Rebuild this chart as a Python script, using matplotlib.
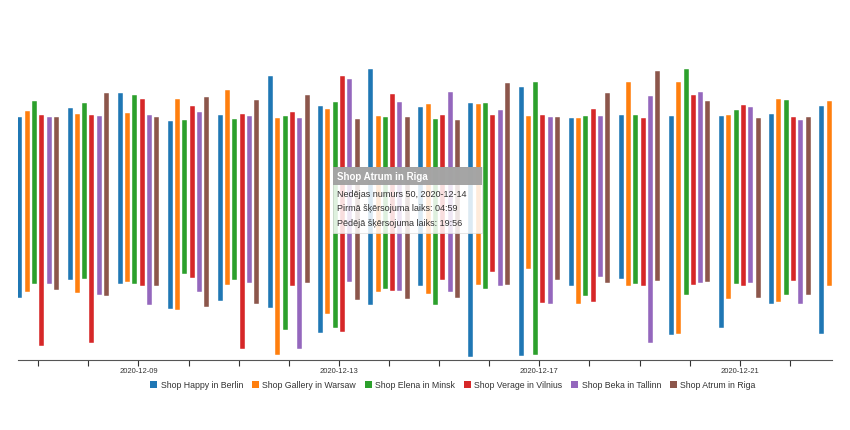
"""
Daily first/last crossing times per shop, drawn as floating bars.
"""

import numpy as np
import pandas as pd
import matplotlib
matplotlib.use("Agg")
import matplotlib.pyplot as plt
import matplotlib.dates as mdates
from matplotlib.patches import Patch, FancyBboxPatch

plt.rcParams["font.family"] = ["Liberation Sans", "DejaVu Sans"]

dates = pd.date_range("2020-12-07", "2020-12-23", freq="D")
label_dates = ["2020-12-09", "2020-12-13", "2020-12-17", "2020-12-21"]

shops = ["Shop Happy in Berlin", "Shop Gallery in Warsaw", "Shop Elena in Minsk",
         "Shop Verage in Vilnius", "Shop Beka in Tallinn", "Shop Atrum in Riga"]
colors = ["#1f77b4", "#ff7f0e", "#2ca02c", "#d62728", "#9467bd", "#8c564b"]

berlin_first = ["05:07", "06:35", "06:16", "04:11", "04:49", "04:16", "02:12", "04:30", "06:05",
                "00:16", "00:20", "06:05", "06:39", "02:03", "02:36", "04:38", "02:08"]
berlin_last = ["20:00", "20:44", "21:58", "19:37", "20:07", "23:22", "20:53", "23:53", "20:46",
               "21:06", "22:26", "19:55", "20:07", "20:03", "20:05", "20:15", "20:54"]
warsaw_first = ["05:37", "05:32", "06:25", "04:07", "06:10", "00:25", "03:47", "05:35", "05:24",
                "06:11", "07:27", "04:35", "06:05", "02:07", "04:59", "04:44", "06:06"]
warsaw_last = ["20:28", "20:15", "20:18", "21:29", "22:13", "19:53", "20:36", "20:02", "21:04",
               "21:04", "20:05", "19:55", "22:52", "22:51", "20:07", "21:26", "21:19"]
minsk_first = ["06:13", "06:41", "06:16", "07:05", "06:33", "02:30", "02:36", "05:52", "04:31",
               "05:49", "00:23", "05:16", "06:13", "05:21", "06:13", "05:22", None]
minsk_last = ["21:19", "21:09", "21:48", "19:45", "19:47", "20:05", "21:11", "19:58", "19:50",
              "21:09", "22:49", "20:03", "20:07", "23:55", "20:31", "21:21", None]
vilnius_first = ["01:11", "01:25", "06:05", "06:46", "00:56", "06:05", "02:19", "05:40", "06:35",
                 "07:13", "04:43", "04:47", "06:05", "06:10", "06:05", "06:28", None]
vilnius_last = ["20:07", "20:07", "21:26", "20:53", "20:12", "20:25", "23:20", "21:50", "20:07",
                "20:07", "20:07", "20:36", "19:55", "21:47", "20:59", "20:00", None]
tallinn_first = ["06:13", "05:21", "04:33", "05:37", "06:21", "00:56", "06:25", "05:40", "05:37",
                 "06:06", "04:36", "06:51", "01:25", "06:18", "06:18", "04:38", None]
tallinn_last = ["20:00", "20:03", "20:08", "20:22", "20:05", "19:52", "23:04", "21:11", "22:03",
                "20:34", "19:58", "20:02", "21:42", "22:03", "20:48", "19:44", None]
riga_first = ["05:45", "05:16", "06:05", "04:21", "04:35", "06:18", "04:54", "04:59", "05:07",
              "06:08", "06:35", "06:18", "06:28", "06:23", "05:06", "05:22", None]
riga_last = ["19:58", "21:55", "19:58", "21:37", "21:24", "21:47", "19:48", "19:56", "19:44",
             "22:47", "19:57", "21:58", "23:45", "21:19", "19:55", "19:57", None]

first_times = [berlin_first, warsaw_first, minsk_first, vilnius_first, tallinn_first, riga_first]
last_times = [berlin_last, warsaw_last, minsk_last, vilnius_last, tallinn_last, riga_last]


def to_hours(values):
    out = []
    for v in values:
        if v is None:
            out.append(np.nan)
        else:
            h, m = v.split(":")
            out.append(int(h) + int(m) / 60)
    return np.array(out)


fig = plt.figure(figsize=(8.5, 4.3), dpi=100)
ax = fig.add_axes([18 / 850, 1 - 360 / 430, 814 / 850, 292 / 430])

xnum = mdates.date2num(dates)
step = 0.146
for i, (name, color) in enumerate(zip(shops, colors)):
    lo = to_hours(first_times[i])
    hi = to_hours(last_times[i])
    ok = ~np.isnan(lo)
    ax.bar(xnum[ok] + (i - 2.5) * step, hi[ok] - lo[ok], bottom=lo[ok], width=0.1,
           color=color, edgecolor="white", linewidth=0.3, clip_on=True)

ax.set_xticks(xnum)
ax.set_xticklabels([d.strftime("%Y-%m-%d") if d.strftime("%Y-%m-%d") in label_dates else ""
                    for d in dates])
# limits after the ticks, otherwise set_xticks widens the view
ax.set_ylim(0, 24)
ax.set_xlim(xnum[0] - 0.403, xnum[0] + 15.84)
ax.tick_params(axis="x", length=4, width=0.8, color="#333333", labelsize=5.5,
               labelcolor="#333333", pad=2)
ax.set_yticks([])
for side in ["top", "right", "left"]:
    ax.spines[side].set_visible(False)
ax.spines["bottom"].set_color("#555555")
ax.spines["bottom"].set_linewidth(0.8)

handles = [Patch(facecolor=c, edgecolor="none", label=s) for s, c in zip(shops, colors)]
fig.legend(handles=handles, loc="center", bbox_to_anchor=(453 / 850, 1 - 385 / 430), ncol=6,
           frameon=False, fontsize=6.3, handlelength=0.8, handleheight=0.8,
           handletextpad=0.4, columnspacing=1.0, labelcolor="#333333")

# tooltip
bx0, by0, bw, bh = 333 / 850, 1 - 233 / 430, 149 / 850, 66 / 430
fig.patches.append(FancyBboxPatch((bx0, by0), bw, bh, boxstyle="square,pad=0",
                                  transform=fig.transFigure, facecolor="white", alpha=0.85,
                                  edgecolor="#dddddd", linewidth=0.6))
hh = 18 / 430
fig.patches.append(FancyBboxPatch((bx0, by0 + bh - hh), bw, hh, boxstyle="square,pad=0",
                                  transform=fig.transFigure, facecolor="#a0a0a0", alpha=0.95,
                                  edgecolor="none"))
fig.text(337 / 850, 1 - 177 / 430, "Shop Atrum in Riga", color="white", fontsize=7,
         fontweight="bold", va="center")
tip_lines = ["Nedējas numurs 50, 2020-12-14", "Pirmā šķērsojuma laiks: 04:59",
             "Pēdējā šķērsojuma laiks: 19:56"]
for k, line in enumerate(tip_lines):
    fig.text(337 / 850, 1 - (195 + 14 * k) / 430, line, color="#333333", fontsize=6.5,
             va="center")

fig.savefig("out.png", dpi=100)
